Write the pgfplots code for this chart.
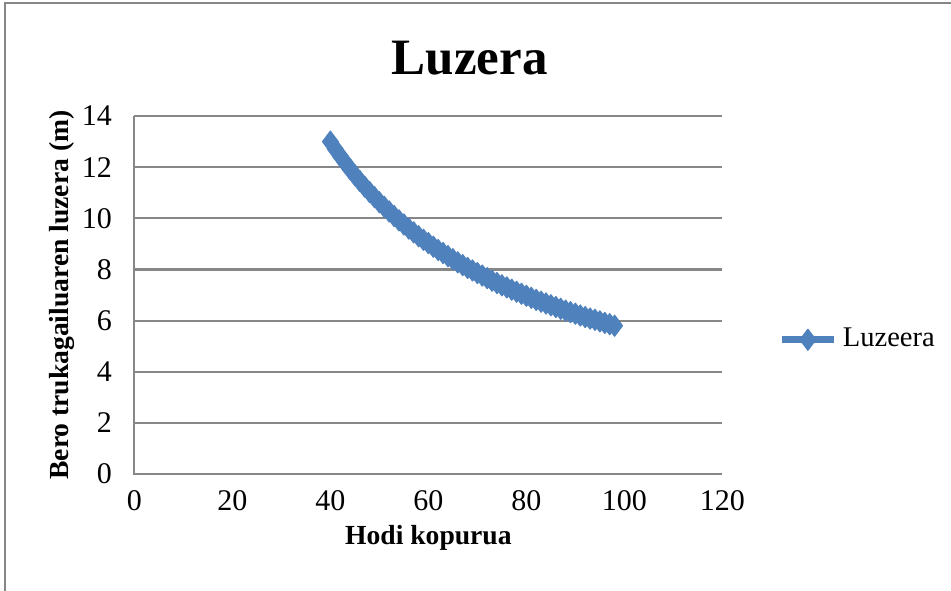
\documentclass[border=0pt]{standalone}
\usepackage{fontspec}
\setmainfont{Liberation Serif}
\usepackage{pgfplots}
\pgfplotsset{compat=1.18}
\definecolor{exblue}{HTML}{4F81BD}
\definecolor{exgrid}{HTML}{878787}
\begin{document}
\begin{tikzpicture}
\path[use as bounding box] (-44.8pt,-39pt) rectangle (272.2pt,158pt);
\draw[exgrid, line width=0.7pt] (-43.1pt,-39pt) -- (-43.1pt,157pt) -- (272.2pt,157pt);
\begin{axis}[
  at={(0,0)}, anchor=south west,
  scale only axis, width=196pt, height=119.3pt,
  xmin=0, xmax=120, ymin=0, ymax=14,
  xtick={0,20,...,120}, ytick={0,2,...,14},
  axis line style={draw=none},
  ymajorgrids, grid style={exgrid, line width=0.7pt},
  major tick length=0pt,
  tick label style={font=\fontsize{10}{12}\selectfont},
  /pgf/number format/assume math mode=true,
  yticklabel style={xshift=-4pt},
  xticklabel style={yshift=-2pt},
  xlabel={Hodi kopurua}, ylabel={Bero trukagailuaren luzera (m)},
  label style={font=\fontsize{9.2}{11}\selectfont\bfseries},
  xlabel style={yshift=2pt},
  ylabel style={at={(axis description cs:-0.1225,0.5)}, anchor=center},
  legend style={at={(1.095,0.375)}, anchor=west, draw=none, fill=none, font=\fontsize{9.5}{11}\selectfont, inner sep=0pt},
  clip=false,
]
\draw[exgrid, line width=0.7pt] (axis cs:0,14) -- (axis cs:0,0) -- (axis cs:120,0);
\addplot[exblue, line width=2.3pt, line join=round, mark=diamond*, mark size=3.5pt, mark options={solid, fill=exblue, draw=exblue, line width=0.4pt}] coordinates {
(40,13.00) (41,12.71) (42,12.44) (43,12.18) (44,11.93) (45,11.69) (46,11.46) (47,11.24) (48,11.03) (49,10.83)
(50,10.63) (51,10.45) (52,10.27) (53,10.09) (54,9.92) (55,9.76) (56,9.60) (57,9.45) (58,9.30) (59,9.16)
(60,9.03) (61,8.89) (62,8.76) (63,8.64) (64,8.52) (65,8.40) (66,8.28) (67,8.17) (68,8.06) (69,7.96)
(70,7.86) (71,7.76) (72,7.66) (73,7.56) (74,7.47) (75,7.38) (76,7.30) (77,7.21) (78,7.13) (79,7.05)
(80,6.97) (81,6.89) (82,6.81) (83,6.74) (84,6.67) (85,6.60) (86,6.53) (87,6.46) (88,6.39) (89,6.33)
(90,6.27) (91,6.20) (92,6.14) (93,6.08) (94,6.03) (95,5.97) (96,5.91) (97,5.86) (98,5.80)
};
\addlegendentry{Luzeera}
\end{axis}
\node[font=\fontsize{17}{20}\selectfont\bfseries] at (111.8pt,138.7pt) {Luzera};
\end{tikzpicture}
\end{document}
